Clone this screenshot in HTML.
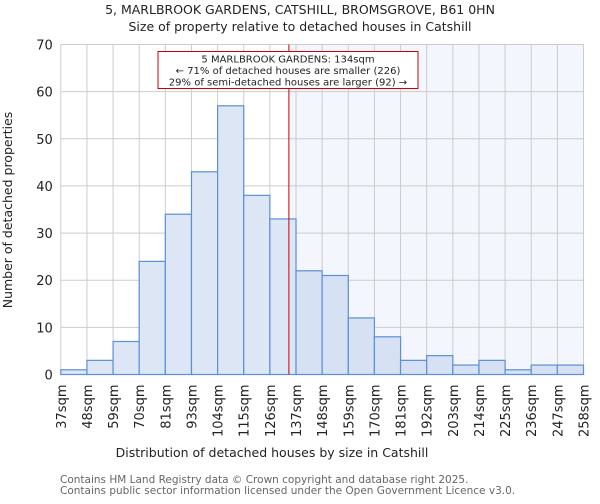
<!DOCTYPE html>
<html><head><meta charset="utf-8"><style>
body{margin:0;background:#fff;font-family:"DejaVu Sans","Liberation Sans",sans-serif;}
svg text{font-family:"DejaVu Sans","Liberation Sans",sans-serif;}
</style></head><body>
<svg id="chart" width="600" height="500" viewBox="0 0 600 500">
<text x="300" y="14" text-anchor="middle" font-size="12.5" fill="#222">5, MARLBROOK GARDENS, CATSHILL, BROMSGROVE, B61 0HN</text>
<text x="300" y="31" text-anchor="middle" font-size="12.5" fill="#222">Size of property relative to detached houses in Catshill</text>
<g id="plot"></g>
<text x="272" y="457" text-anchor="middle" font-size="12.5" fill="#222">Distribution of detached houses by size in Catshill</text>
<text transform="translate(12,210) rotate(-90)" text-anchor="middle" font-size="12.5" fill="#222">Number of detached properties</text>
<text x="60" y="483" font-size="10.5" fill="#666">Contains HM Land Registry data © Crown copyright and database right 2025.</text>
<text x="60" y="494" font-size="10.5" fill="#666">Contains public sector information licensed under the Open Government Licence v3.0.</text>
</svg>
<script>
const binEdges=[37,48,59,70,81,93,104,115,126,137,148,159,170,181,192,203,214,225,236,247,258];
const counts=[1,3,7,24,34,43,57,38,33,22,21,12,8,3,4,2,3,1,2,2];
const yTicks=[0,10,20,30,40,50,60,70];
const propertySize=134;
const L=60.8,R=583.5,T=44.5,B=374.5,YMAX=70;
const n=counts.length;
const bw=(R-L)/n;
function xIdx(i){return L+i*bw;}
function xVal(v){let i=0;while(i<n-1&&v>binEdges[i+1])i++;return xIdx(i)+bw*(v-binEdges[i])/(binEdges[i+1]-binEdges[i]);}
function y(v){return B-(v/YMAX)*(B-T);}
const NS="http://www.w3.org/2000/svg";
const g=document.getElementById('plot');
function mk(t,a){const e=document.createElementNS(NS,t);for(const k in a)e.setAttribute(k,a[k]);g.appendChild(e);return e;}
const px=xVal(propertySize);
let e=mk('rect',{x:px,y:T,width:R-px,height:B-T,fill:'#f3f6fc'});


for(let i=0;i<=n;i++){e=mk('line',{x1:xIdx(i),x2:xIdx(i),y1:T,y2:B,stroke:'#ccc','stroke-width':1});

}
yTicks.forEach(t=>{e=mk('line',{x1:L,x2:R,y1:y(t),y2:y(t),stroke:'#ccc','stroke-width':1});


e=mk('text',{x:L-8,y:y(t)+5,'text-anchor':'end','font-size':'13',fill:'#222'});e.textContent=t;

});
counts.forEach((c,i)=>{e=mk('rect',{x:xIdx(i),y:y(c),width:bw,height:B-y(c),fill:binEdges[i]>=propertySize?'#d6e1f3':'#dce6f4',stroke:'#5b8fd6','stroke-width':1.2});

});
binEdges.forEach((b,i)=>{const xx=xIdx(i);e=mk('text',{transform:`translate(${xx+5},${B+10}) rotate(-90)`,'text-anchor':'end','font-size':'13',fill:'#222'});e.textContent=b+'sqm';

});
e=mk('line',{x1:px,x2:px,y1:T,y2:B,stroke:'#c00','stroke-width':1});


e=mk('rect',{x:158,y:51.5,width:260,height:37,fill:'#fff',stroke:'#c00','stroke-width':1});


['5 MARLBROOK GARDENS: 134sqm','← 71% of detached houses are smaller (226)','29% of semi-detached houses are larger (92) →'].forEach((s,i)=>{e=mk('text',{x:288,y:62.5+i*11.5,'text-anchor':'middle','font-size':'10',fill:'#222'});e.textContent=s;

});
</script>
</body></html>
